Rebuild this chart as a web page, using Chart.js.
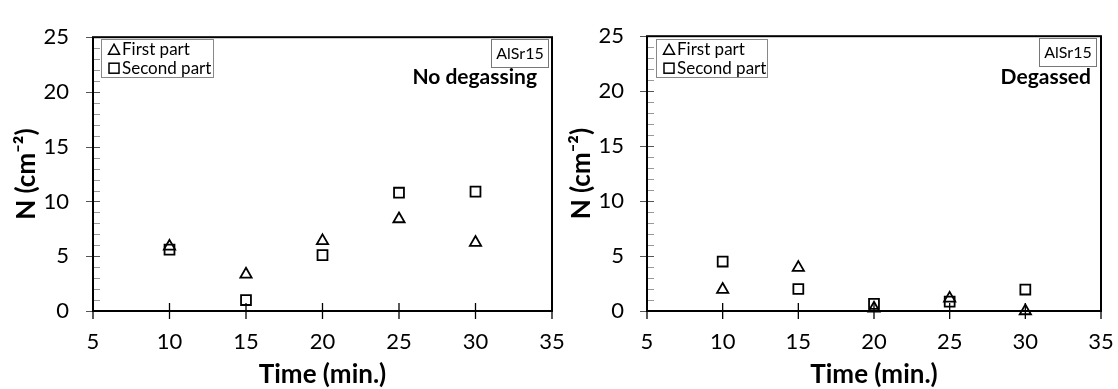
<!DOCTYPE html>
<html>
<head>
<meta charset="utf-8">
<script src="https://cdn.jsdelivr.net/npm/chart.js@4.4.1/dist/chart.umd.min.js"></script>
<style>
  html, body { margin: 0; padding: 0; background: #fff; }
  #wrap { position: relative; width: 1118px; height: 389px; overflow: hidden; }
  canvas { position: absolute; top: 0; }
</style>
</head>
<body>
<div id="wrap">
  <canvas id="chartLeft" width="580" height="389" style="left:0"></canvas>
  <canvas id="chartRight" width="559" height="389" style="left:559px"></canvas>
</div>
<script>
// values
const timeMin = [10, 15, 20, 25, 30];
const noDegasFirst = [5.9, 3.35, 6.4, 8.4, 6.25];
const noDegasSecond = [5.6, 1.0, 5.1, 10.8, 10.9];
const degasFirst = [1.95, 3.95, 0.25, 1.15, 0.0];
const degasSecond = [4.5, 2.0, 0.65, 0.85, 1.95];
const seriesNames = ['First part', 'Second part'];
const xMin = 5, xMax = 35, xStep = 5;
const yMin = 0, yMax = 25;

const FONT = 'Lato';

function drawTri(ctx, x, y, w, h) {
  ctx.beginPath();
  ctx.moveTo(x, y - h / 2);
  ctx.lineTo(x + w / 2, y + h / 2);
  ctx.lineTo(x - w / 2, y + h / 2);
  ctx.closePath();
  ctx.stroke();
}

const panelDeco = {
  id: 'panelDeco',
  afterDraw(chart, args, opts) {
    const ctx = chart.ctx;
    const a = chart.chartArea;
    const xs = chart.scales.x, ys = chart.scales.y;
    ctx.save();

    // y ticks: majors cross the axis, minors inside
    ys.ticks.forEach(t => {
      const py = Math.round(ys.getPixelForValue(t.value)) + 0.5;
      const major = t.value % 5 === 0;
      ctx.strokeStyle = major ? '#555' : '#999';
      ctx.lineWidth = 1;
      ctx.beginPath();
      ctx.moveTo(a.left - (major ? 7 : 0), py);
      ctx.lineTo(a.left + 7, py);
      ctx.stroke();
    });

    // x ticks cross the axis
    ctx.strokeStyle = '#000';
    ctx.lineWidth = 1.3;
    xs.ticks.forEach(t => {
      const px = xs.getPixelForValue(t.value);
      ctx.beginPath();
      ctx.moveTo(px, a.bottom - 8);
      ctx.lineTo(px, a.bottom + 8);
      ctx.stroke();
    });

    // plot frame
    ctx.lineWidth = 2;
    ctx.strokeStyle = '#000';
    ctx.strokeRect(a.left, a.top, a.right - a.left, a.bottom - a.top);

    // legend box
    const lx = a.left + opts.legendDx, ly = a.top + opts.legendDy;
    ctx.lineWidth = 1;
    ctx.strokeStyle = '#888';
    ctx.strokeRect(Math.round(lx) + 0.5, Math.round(ly) + 0.5, opts.legendW, 38);
    ctx.font = '17px ' + FONT;
    ctx.fillStyle = '#000';
    ctx.textBaseline = 'middle';
    ctx.textAlign = 'left';
    ctx.strokeStyle = '#000';
    ctx.lineWidth = 1.5;
    drawTri(ctx, lx + 13, ly + 10, 11, 10);
    ctx.fillText(seriesNames[0], lx + 21, ly + 10);
    ctx.strokeRect(lx + 8, ly + 24, 10, 10);
    ctx.fillText(seriesNames[1], lx + 21, ly + 29);

    // sample label box
    const bw = 57, bx = a.right - opts.tagDx - bw, by = a.top + 2;
    ctx.lineWidth = 1;
    ctx.strokeStyle = '#777';
    ctx.strokeRect(Math.round(bx) + 0.5, Math.round(by) + 0.5, bw, 28);
    ctx.font = '16px ' + FONT;
    ctx.textAlign = 'center';
    ctx.fillText(opts.tag, bx + bw / 2 + 0.5, by + 14.5);

    // condition note
    ctx.font = 'bold 21px ' + FONT;
    ctx.textAlign = 'right';
    ctx.fillText(opts.note, a.right - opts.noteDx, 77);

    ctx.restore();
  }
};

function makeChart(id, firstVals, secondVals, panel) {
  const ctx = document.getElementById(id).getContext('2d');
  return new Chart(ctx, {
    type: 'scatter',
    data: {
      datasets: [
        {
          label: seriesNames[0],
          data: timeMin.map((t, i) => ({ x: t, y: firstVals[i] })),
          pointStyle: 'triangle',
          pointRadius: 6.5,
          pointBorderWidth: 1.8,
          pointBorderColor: '#000',
          pointBackgroundColor: 'rgba(0,0,0,0)',
          showLine: false,
          clip: false
        },
        {
          label: seriesNames[1],
          data: timeMin.map((t, i) => ({ x: t, y: secondVals[i] })),
          pointStyle: 'rect',
          pointRadius: 7,
          pointBorderWidth: 1.8,
          pointBorderColor: '#000',
          pointBackgroundColor: 'rgba(0,0,0,0)',
          showLine: false,
          clip: false
        }
      ]
    },
    options: {
      responsive: false,
      animation: false,
      devicePixelRatio: 1,
      layout: { padding: { top: 22, right: panel.padRight, left: 0, bottom: 0 } },
      plugins: {
        legend: { display: false },
        tooltip: { enabled: false },
        panelDeco: panel.deco
      },
      scales: {
        x: {
          type: 'linear',
          min: xMin,
          max: xMax,
          ticks: { stepSize: xStep, padding: 18, maxRotation: 0, color: '#000', font: { family: FONT, size: 22 } },
          grid: { display: false, drawTicks: false },
          border: { display: false },
          title: {
            display: true,
            text: 'Time (min.)',
            color: '#000',
            font: { family: FONT, size: 26, weight: 'bold' },
            padding: { top: 0, bottom: -1 }
          },
          afterFit(s) { s.height = 78; s.paddingLeft = 0; s.paddingRight = 0; }
        },
        y: {
          type: 'linear',
          min: yMin,
          max: yMax,
          ticks: {
            stepSize: 1,
            autoSkip: false,
            padding: panel.yPad,
            color: '#000',
            font: { family: FONT, size: 22 },
            callback: v => (v % 5 === 0 ? v : '')
          },
          grid: { display: false, drawTicks: false },
          border: { display: false },
          title: {
            display: true,
            text: 'N (cm⁻²)',
            color: '#000',
            font: { family: FONT, size: 26, weight: 'bold' },
            padding: { top: panel.titlePad, bottom: 0 }
          },
          afterFit(s) { s.width = panel.yWidth; }
        }
      }
    },
    plugins: [panelDeco]
  });
}

makeChart('chartLeft', noDegasFirst, noDegasSecond, {
  yWidth: 93, padRight: 28, yPad: 24, titlePad: 11,
  deco: { legendDx: 8, legendDy: 2, legendW: 112, tag: 'AlSr15', tagDx: 4, note: 'No degassing', noteDx: 15 }
});

makeChart('chartRight', degasFirst, degasSecond, {
  yWidth: 88, padRight: 17, yPad: 23, titlePad: 7,
  deco: { legendDx: 9, legendDy: 3, legendW: 111, tag: 'AlSr15', tagDx: 5, note: 'Degassed', noteDx: 10 }
});
</script>
</body>
</html>
